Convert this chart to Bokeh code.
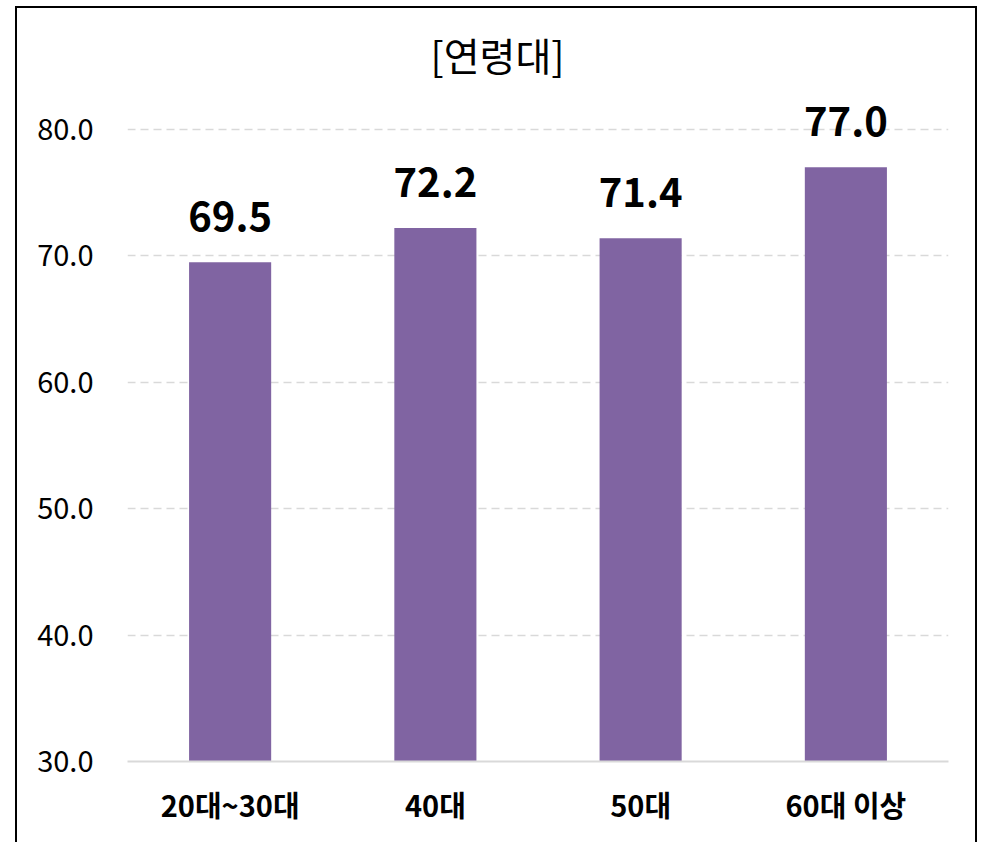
from bokeh.plotting import figure
from bokeh.models import ColumnDataSource, FixedTicker, LabelSet, Range1d, FactorRange, CustomJSTickFormatter
from bokeh.core.properties import value
from bokeh.embed import file_html
from bokeh.resources import INLINE

categories = ["20대~30대", "40대", "50대", "60대 이상"]
values = [69.5, 72.2, 71.4, 77.0]
labels = ["69.5", "72.2", "71.4", "77.0"]
y_ticks = [30, 40, 50, 60, 70, 80]
title_text = "[연령대]"

src = ColumnDataSource(dict(cat=categories, val=values, lab=labels))

p = figure(x_range=FactorRange(*categories), y_range=Range1d(30, 83),
           width=977, height=842, output_backend="svg", toolbar_location=None,
           min_border_left=127, min_border_right=29, min_border_top=91, min_border_bottom=81,
           title=title_text)
p.border_fill_color = None
p.background_fill_color = "#ffffff"
p.styles = {"box-shadow": ("inset 15px 0 0 0 #ffffff, inset 0 6px 0 0 #ffffff, "
                           "inset 17px 0 0 0 #000000, inset 0 8px 0 0 #000000, "
                           "inset -2px 0 0 0 #000000")}

p.title.text_font = "Noto Sans CJK KR"
p.title.text_font_size = "39px"
p.title.text_font_style = "normal"
p.title.text_color = "#000000"
p.title.align = "left"
p.title.offset = 303
p.title.standoff = 20

p.vbar(x="cat", top="val", bottom=30, width=0.4, source=src, fill_color="#8064A2", line_color=None)

ls = LabelSet(x="cat", y="val", text="lab", source=src, text_align="center",
              text_baseline="alphabetic", y_offset=31,
              text_font=value("Noto Sans CJK KR"), text_font_size=value("40px"),
              text_font_style="bold", text_color="#000000")
p.add_layout(ls)

p.yaxis.ticker = FixedTicker(ticks=y_ticks)
p.yaxis.formatter = CustomJSTickFormatter(code="return tick.toFixed(1);")
p.yaxis.axis_line_color = None
p.yaxis.major_tick_line_color = None
p.yaxis.minor_tick_line_color = None
p.yaxis.major_label_text_font = "Noto Sans CJK KR"
p.yaxis.major_label_text_font_size = "29px"
p.yaxis.major_label_text_color = "#000000"
p.yaxis.major_label_standoff = 28

p.xaxis.axis_line_color = "#d9d9d9"
p.xaxis.axis_line_width = 2
p.xaxis.major_tick_line_color = None
p.xaxis.minor_tick_line_color = None
p.xaxis.major_label_text_font = "Noto Sans CJK KR"
p.xaxis.major_label_text_font_size = "29px"
p.xaxis.major_label_text_font_style = "bold"
p.xaxis.major_label_text_color = "#000000"
p.xaxis.major_label_standoff = 15

p.xgrid.grid_line_color = None
p.ygrid.grid_line_color = "#d9d9d9"
p.ygrid.grid_line_dash = "8 5"
p.ygrid.grid_line_width = 1.5
p.outline_line_color = None

open("out.html", "w").write(file_html(p, INLINE))
